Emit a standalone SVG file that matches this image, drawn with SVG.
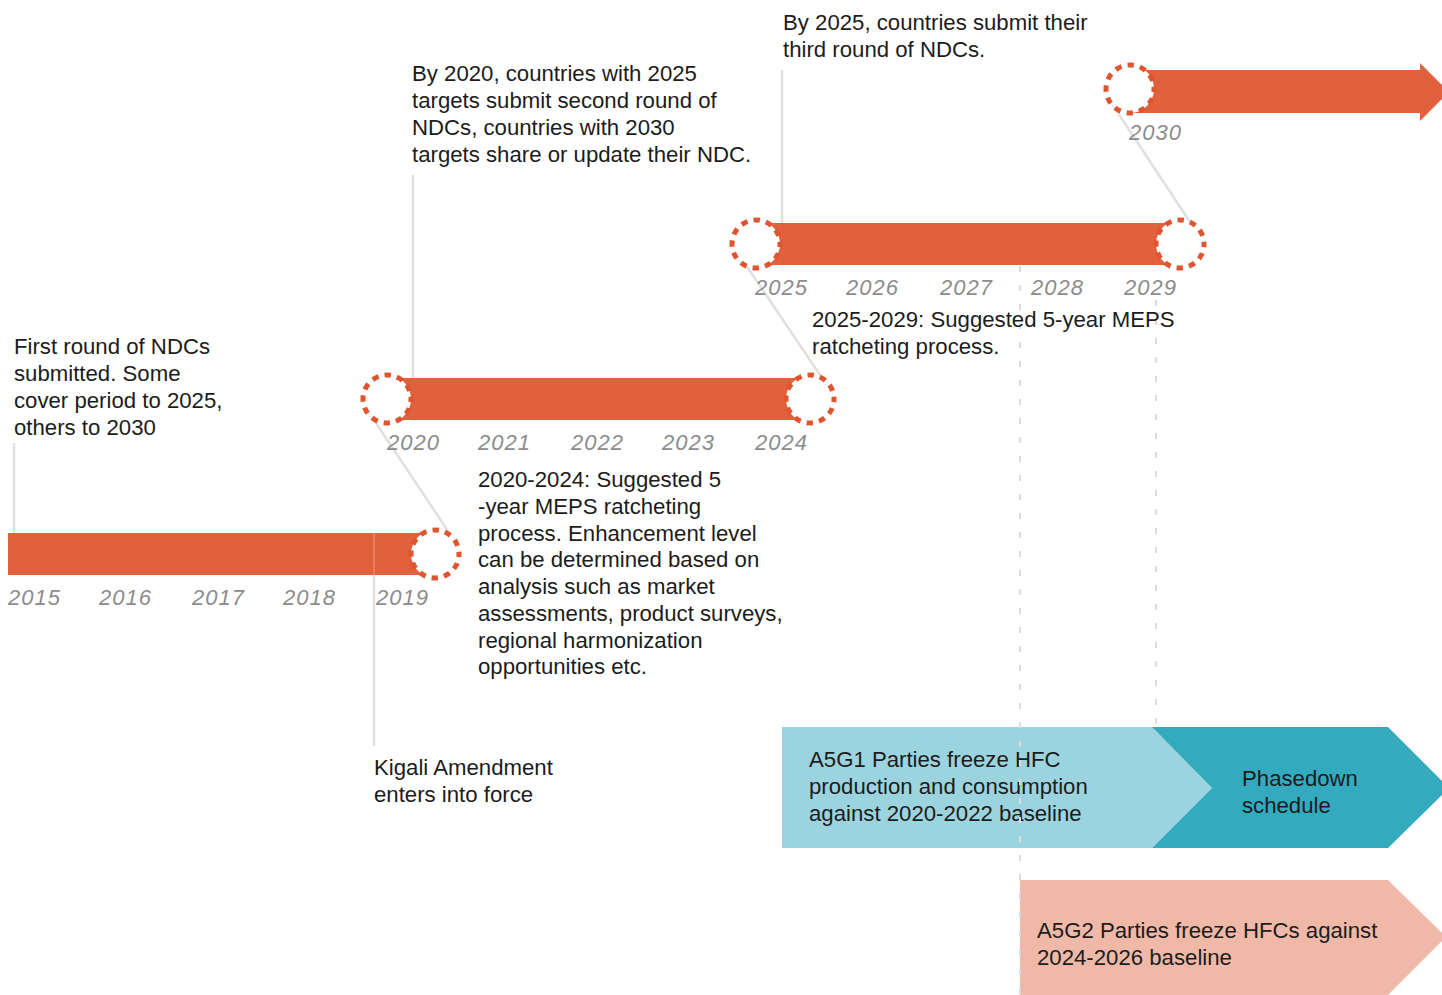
<svg xmlns="http://www.w3.org/2000/svg" width="1442" height="995" viewBox="0 0 1442 995">
  <style>
    .body { font-family: "Liberation Sans", Arial, sans-serif; font-size: 22.2px; fill: #1c1c1c; }
    .year { font-family: "Liberation Sans", Arial, sans-serif; font-size: 22px; font-style: italic; fill: #8c8c8c; letter-spacing: 1px; }
    .bar { fill: #E0613B; }
    .ring { fill: #ffffff; stroke: #E0542E; stroke-width: 5; stroke-dasharray: 6.5 6.066; stroke-dashoffset: 3.25; }
    .lead { stroke: #e0e0e0; stroke-width: 2.5; fill: none; }
    .guide { stroke: #dcdcdc; stroke-width: 2; stroke-dasharray: 6 13; fill: none; }
  </style>

  <rect width="1442" height="995" fill="#ffffff"/>

  <!-- HFC phase-down chevrons -->
  <g id="a5g1">
    <polygon points="782,727 1152,727 1212,788 1152,848 782,848" fill="#9BD4DF"/>
    <text class="body"><tspan x="809" y="767">A5G1 Parties freeze HFC</tspan><tspan x="809" y="794">production and consumption</tspan><tspan x="809" y="821">against 2020-2022 baseline</tspan></text>
  </g>
  <g id="phasedown">
    <polygon points="1152,727 1388,727 1449,788 1388,848 1152,848 1212,788" fill="#34AABF"/>
    <text class="body"><tspan x="1242" y="786">Phasedown</tspan><tspan x="1242" y="813">schedule</tspan></text>
  </g>
  <g id="a5g2">
    <polygon points="1020,880 1388,880 1446,937 1388,995 1020,995" fill="#F0B8A6"/>
    <text class="body"><tspan x="1037" y="938">A5G2 Parties freeze HFCs against</tspan><tspan x="1037" y="965">2024-2026 baseline</tspan></text>
  </g>

  <!-- leader lines and guides -->
  <g id="connectors">
    <line class="lead" x1="14" y1="443" x2="14" y2="533"/>
    <line class="lead" x1="413" y1="175" x2="413" y2="378"/>
    <line class="lead" x1="782" y1="70" x2="782" y2="223"/>
    <line class="lead" x1="374" y1="533" x2="374" y2="746"/>
    <line class="lead" x1="1112" y1="104" x2="1190" y2="222"/>
    <line class="lead" x1="740" y1="256" x2="822" y2="378"/>
    <line class="lead" x1="370" y1="414" x2="450" y2="534"/>
    <line class="guide" x1="1020" y1="266" x2="1020" y2="995"/>
    <line class="guide" x1="1156" y1="300" x2="1156" y2="728"/>
  </g>

  <!-- 2015-2019 -->
  <g id="period-2015">
    <rect class="bar" x="8" y="533" width="427" height="42"/>
    <line x1="374" y1="533" x2="374" y2="575" stroke="#ffffff" stroke-opacity="0.18" stroke-width="2"/>
    <circle class="ring" cx="435" cy="554" r="24"/>
    <text class="year" x="8" y="605">2015</text>
    <text class="year" x="99" y="605">2016</text>
    <text class="year" x="192" y="605">2017</text>
    <text class="year" x="283" y="605">2018</text>
    <text class="year" x="376" y="605">2019</text>
  </g>

  <!-- 2020-2024 -->
  <g id="period-2020">
    <rect class="bar" x="387" y="378" width="423" height="42"/>
    <circle class="ring" cx="387" cy="399" r="24"/>
    <circle class="ring" cx="810" cy="399" r="24"/>
    <text class="year" x="387" y="450">2020</text>
    <text class="year" x="478" y="450">2021</text>
    <text class="year" x="571" y="450">2022</text>
    <text class="year" x="662" y="450">2023</text>
    <text class="year" x="755" y="450">2024</text>
  </g>

  <!-- 2025-2029 -->
  <g id="period-2025">
    <rect class="bar" x="756" y="223" width="424" height="42"/>
    <circle class="ring" cx="756" cy="244" r="24"/>
    <circle class="ring" cx="1180" cy="244" r="24"/>
    <text class="year" x="755" y="295">2025</text>
    <text class="year" x="846" y="295">2026</text>
    <text class="year" x="940" y="295">2027</text>
    <text class="year" x="1031" y="295">2028</text>
    <text class="year" x="1124" y="295">2029</text>
  </g>

  <!-- 2030 onward -->
  <g id="period-2030">
    <polygon class="bar" points="1130,70 1420,70 1420,63 1449,92 1420,121 1420,113 1130,113"/>
    <circle class="ring" cx="1130" cy="89" r="24"/>
    <text class="year" x="1129" y="140">2030</text>
  </g>

  <!-- annotations -->
  <g id="note-first-round">
    <text class="body"><tspan x="14" y="354">First round of NDCs</tspan><tspan x="14" y="381">submitted. Some</tspan><tspan x="14" y="408">cover period to 2025,</tspan><tspan x="14" y="435">others to 2030</tspan></text>
  </g>
  <g id="note-2020">
    <text class="body"><tspan x="412" y="81">By 2020, countries with 2025</tspan><tspan x="412" y="108">targets submit second round of</tspan><tspan x="412" y="135">NDCs, countries with 2030</tspan><tspan x="412" y="162">targets share or update their NDC.</tspan></text>
  </g>
  <g id="note-2025">
    <text class="body"><tspan x="783" y="30">By 2025, countries submit their</tspan><tspan x="783" y="57">third round of NDCs.</tspan></text>
  </g>
  <g id="note-meps-2025">
    <text class="body"><tspan x="812" y="327">2025-2029: Suggested 5-year MEPS</tspan><tspan x="812" y="354">ratcheting process.</tspan></text>
  </g>
  <g id="note-meps-2020">
    <text class="body"><tspan x="478" y="487">2020-2024: Suggested 5</tspan><tspan x="478" y="514">-year MEPS ratcheting</tspan><tspan x="478" y="541">process. Enhancement level</tspan><tspan x="478" y="567">can be determined based on</tspan><tspan x="478" y="594">analysis such as market</tspan><tspan x="478" y="621">assessments, product surveys,</tspan><tspan x="478" y="648">regional harmonization</tspan><tspan x="478" y="674">opportunities etc.</tspan></text>
  </g>
  <g id="note-kigali">
    <text class="body"><tspan x="374" y="775">Kigali Amendment</tspan><tspan x="374" y="802">enters into force</tspan></text>
  </g>
</svg>
